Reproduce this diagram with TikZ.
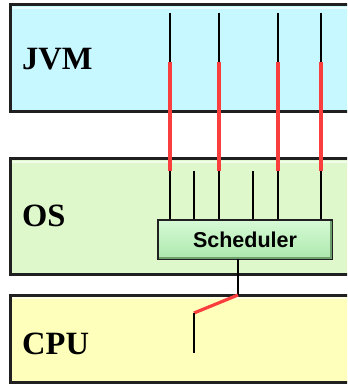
\documentclass[tikz,border=0pt]{standalone}
\usepackage{fontspec}
\setmainfont{Liberation Serif}
\setsansfont{Liberation Sans}
\definecolor{jvmfill}{RGB}{200,248,255}
\definecolor{osfill}{RGB}{222,248,204}
\definecolor{cpufill}{RGB}{255,255,188}
\definecolor{boxline}{RGB}{32,32,32}
\definecolor{thread}{RGB}{250,62,62}
\definecolor{schedtop}{RGB}{214,250,214}
\definecolor{schedbot}{RGB}{172,232,172}
\definecolor{schededge}{RGB}{110,160,110}
\begin{document}
\begin{tikzpicture}[x=1pt,y=-1pt,
  layer/.style={draw=boxline,line width=3pt},
  layerlabel/.style={anchor=base west,inner sep=0pt,font=\fontsize{32.5}{32.5}\selectfont\bfseries},
  wire/.style={line width=2.4pt,black},
  redwire/.style={line width=3.2pt,thread}]
\useasboundingbox (0,0) rectangle (347,387);
\clip (0,0) rectangle (347,387);

% the three layers
\draw[layer,fill=jvmfill] (10,5) rectangle (362,112);
\draw[layer,fill=osfill] (10,159) rectangle (362,274);
\draw[layer,fill=cpufill] (10,295) rectangle (362,382);
% soft top highlight inside each layer
\foreach \y in {8,162,298} \draw[white,opacity=0.6,line width=1.5pt] (12,\y) -- (362,\y);

\node[layerlabel] (jvm) at (22,70) {JVM};
\node[layerlabel] (os) at (22,226) {OS};
\node[layerlabel] (cpu) at (22,354) {CPU};

% scheduler box
\node[draw=boxline,line width=2pt,top color=schedtop,bottom color=schedbot,
      minimum width=174pt,minimum height=39pt,inner sep=0pt,
      font=\sffamily\bfseries\fontsize{21.5}{21.5}\selectfont] (sched) at (245,239.5) {Scheduler};
% darker lower edge inside the scheduler box
\draw[schededge,line width=1.2pt]
  ([xshift=2pt,yshift=2pt]sched.south west) -- ([xshift=-2pt,yshift=2pt]sched.south east)
  -- ([xshift=-2pt,yshift=-2pt]sched.north east);

% Java threads: start in the JVM, mapped onto OS threads
\foreach \i/\x in {1/170,2/219,3/278,4/321}{
  \coordinate (jt\i) at (\x,13);
  \coordinate (jm\i) at (\x,62);
  \coordinate (om\i) at (\x,171);
  \draw[wire] (jt\i) -- (jm\i);
  \draw[redwire] (jm\i) -- (om\i);
  \draw[wire] (om\i) -- (om\i |- sched.north);
}
% native-only OS threads
\foreach \i/\x in {5/194,6/253}{
  \coordinate (om\i) at (\x,171);
  \draw[wire] (om\i) -- (om\i |- sched.north);
}

% scheduler dispatching onto the CPU
\coordinate (sb) at (238,259);
\coordinate (cj) at (238,295);
\coordinate (ck) at (194,313);
\coordinate (ce) at (194,353);
\draw[wire] (sb) -- (cj);
\draw[redwire] (cj) -- (ck);
\draw[wire] (ck) -- (ce);
\end{tikzpicture}
\end{document}
